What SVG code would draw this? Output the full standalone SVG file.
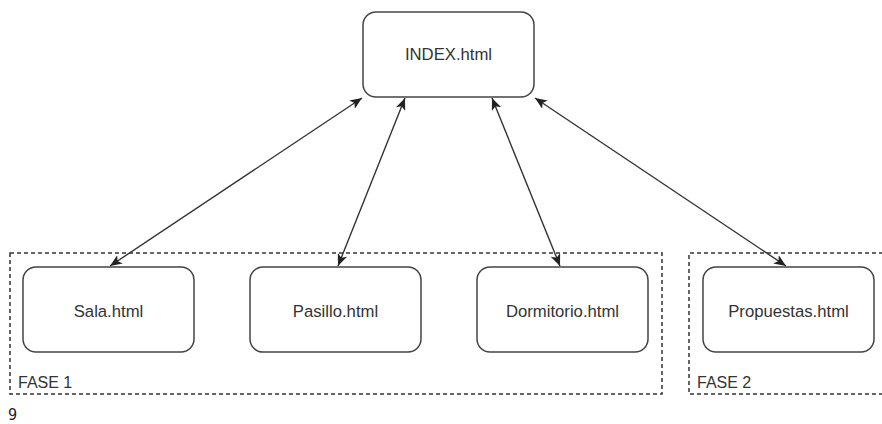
<svg xmlns="http://www.w3.org/2000/svg" width="882" height="424" viewBox="0 0 882 424">
<style>
.box{fill:#fff;stroke:#444;stroke-width:1.5}
.grp{fill:none;stroke:#333;stroke-width:1.5;stroke-dasharray:4 3}
.lbl{font-family:"Liberation Sans",Arial,sans-serif;font-size:16.7px;fill:#333;text-anchor:middle}
.glbl{font-family:"Liberation Sans",Arial,sans-serif;font-size:16px;fill:#333}
.edge{fill:none;stroke:#333;stroke-width:1.4}
</style>
<defs>
<marker id="ah" viewBox="0 0 12 10" refX="12" refY="5" markerWidth="12" markerHeight="10" markerUnits="userSpaceOnUse" orient="auto-start-reverse">
<path d="M0,0 L12,5 L0,10 L3,5 z" fill="#222"/>
</marker>
</defs>
<rect width="882" height="424" fill="#fff"/>
<g id="fase1">
<rect class="grp" x="10" y="253" width="652" height="141"/>
<text class="glbl" x="18" y="388">FASE 1</text>
</g>
<g id="fase2">
<path class="grp" d="M890,253 H689 V394 H890"/>
<text class="glbl" x="697" y="388">FASE 2</text>
</g>
<g id="index">
<rect class="box" x="363" y="12" width="171" height="85" rx="13"/>
<text class="lbl" x="448.5" y="60">INDEX.html</text>
</g>
<g id="sala">
<rect class="box" x="23" y="267" width="171" height="85" rx="13"/>
<text class="lbl" x="108.5" y="317">Sala.html</text>
</g>
<g id="pasillo">
<rect class="box" x="250" y="267" width="171" height="85" rx="13"/>
<text class="lbl" x="335.5" y="317">Pasillo.html</text>
</g>
<g id="dormitorio">
<rect class="box" x="477" y="267" width="171" height="85" rx="13"/>
<text class="lbl" x="562.5" y="317">Dormitorio.html</text>
</g>
<g id="propuestas">
<rect class="box" x="703" y="267" width="171" height="85" rx="13"/>
<text class="lbl" x="788.5" y="317">Propuestas.html</text>
</g>
<g id="connectors">
<line class="edge" x1="362" y1="98" x2="110" y2="266" marker-start="url(#ah)" marker-end="url(#ah)"/>
<line class="edge" x1="405" y1="98" x2="338" y2="266" marker-start="url(#ah)" marker-end="url(#ah)"/>
<line class="edge" x1="492" y1="98" x2="560" y2="266" marker-start="url(#ah)" marker-end="url(#ah)"/>
<line class="edge" x1="535" y1="98" x2="786" y2="266" marker-start="url(#ah)" marker-end="url(#ah)"/>
</g>
<text x="8" y="420" style="font-family:'DejaVu Sans Condensed','DejaVu Sans',sans-serif;font-size:16px;fill:#222">9</text>
</svg>
